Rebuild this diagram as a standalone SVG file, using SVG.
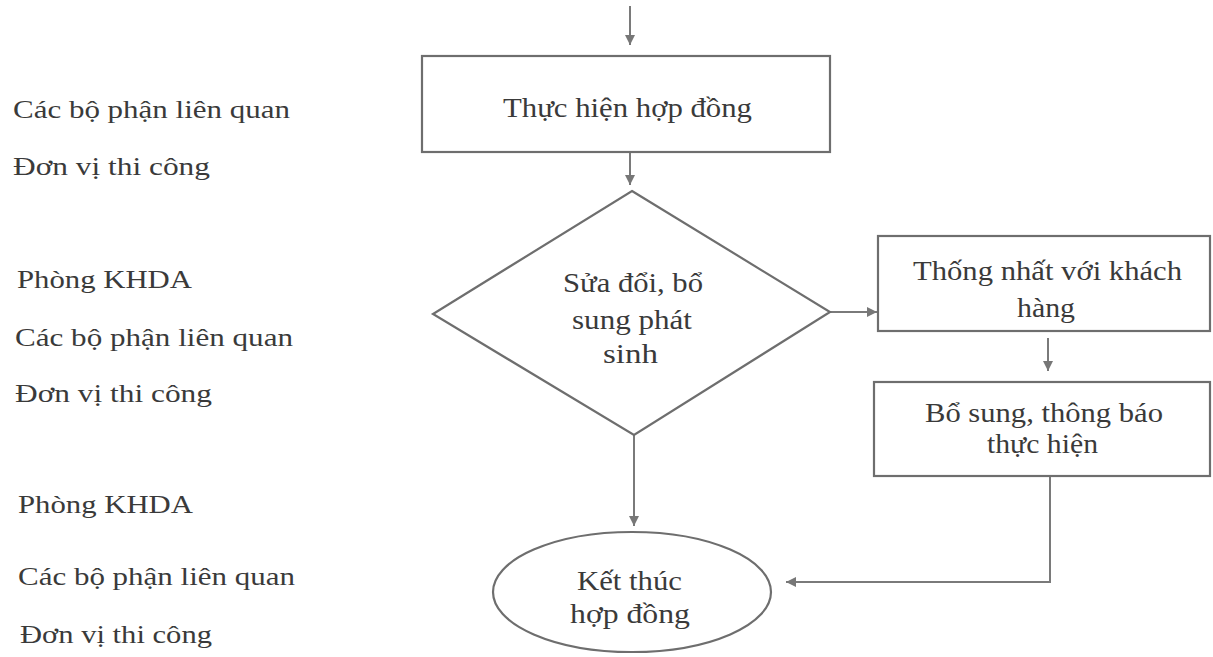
<svg xmlns="http://www.w3.org/2000/svg" width="1213" height="657" viewBox="0 0 1213 657">
<defs>
<marker id="arr" markerUnits="userSpaceOnUse" markerWidth="12" markerHeight="12" refX="10" refY="5" orient="auto">
<path d="M0,0 L10,5 L0,10 z" fill="#777"/>
</marker>
<style>
.shape{fill:#fff;stroke:#6e6e6e;stroke-width:2.2}
.conn{fill:none;stroke:#7a7a7a;stroke-width:2}
text{font-family:"Liberation Serif","Times New Roman",serif;fill:#3a3a3a}
.lbl{font-size:26px}
.nt{font-size:28px;text-anchor:start}
</style>
</defs>
<rect width="1213" height="657" fill="#fff"/>
<g id="labels">
<text class="lbl" x="13" y="118" textLength="277" lengthAdjust="spacingAndGlyphs">Các bộ phận liên quan</text>
<text class="lbl" x="13" y="175" textLength="197" lengthAdjust="spacingAndGlyphs">Đơn vị thi công</text>
<text class="lbl" x="17" y="288" textLength="175" lengthAdjust="spacingAndGlyphs">Phòng KHDA</text>
<text class="lbl" x="15" y="346" textLength="278" lengthAdjust="spacingAndGlyphs">Các bộ phận liên quan</text>
<text class="lbl" x="15" y="402" textLength="197" lengthAdjust="spacingAndGlyphs">Đơn vị thi công</text>
<text class="lbl" x="18" y="513" textLength="175" lengthAdjust="spacingAndGlyphs">Phòng KHDA</text>
<text class="lbl" x="18" y="585" textLength="277" lengthAdjust="spacingAndGlyphs">Các bộ phận liên quan</text>
<text class="lbl" x="20" y="643" textLength="192" lengthAdjust="spacingAndGlyphs">Đơn vị thi công</text>
</g>
<g id="connectors">
<line class="conn" x1="630" y1="6" x2="630" y2="45" marker-end="url(#arr)"/>
<line class="conn" x1="630" y1="152" x2="630" y2="185" marker-end="url(#arr)"/>
<line class="conn" x1="830" y1="312" x2="877" y2="312" marker-end="url(#arr)"/>
<line class="conn" x1="1048" y1="338" x2="1048" y2="371" marker-end="url(#arr)"/>
<line class="conn" x1="634" y1="435" x2="634" y2="526" marker-end="url(#arr)"/>
<polyline class="conn" points="1050,476 1050,582 786,582" marker-end="url(#arr)"/>
</g>
<g id="n1">
<rect class="shape" x="422" y="56" width="408" height="96"/>
<text class="nt" x="503" y="117" textLength="249" lengthAdjust="spacingAndGlyphs">Thực hiện hợp đồng</text>
</g>
<g id="n2">
<polygon class="shape" points="632,191 830,312 634,435 433,314"/>
<text class="nt" x="563" y="292" textLength="140" lengthAdjust="spacingAndGlyphs">Sửa đổi, bổ</text>
<text class="nt" x="572" y="329" textLength="120" lengthAdjust="spacingAndGlyphs">sung phát</text>
<text class="nt" x="603" y="363" textLength="55" lengthAdjust="spacingAndGlyphs">sinh</text>
</g>
<g id="n3">
<rect class="shape" x="878" y="236" width="332" height="95"/>
<text class="nt" x="913" y="280" textLength="269" lengthAdjust="spacingAndGlyphs">Thống nhất với khách</text>
<text class="nt" x="1017" y="317" textLength="58" lengthAdjust="spacingAndGlyphs">hàng</text>
</g>
<g id="n4">
<rect class="shape" x="874" y="382" width="336" height="94"/>
<text class="nt" x="925" y="422" textLength="238" lengthAdjust="spacingAndGlyphs">Bổ sung, thông báo</text>
<text class="nt" x="987" y="453" textLength="111" lengthAdjust="spacingAndGlyphs">thực hiện</text>
</g>
<g id="n5">
<ellipse class="shape" cx="632" cy="592" rx="139" ry="60"/>
<text class="nt" x="577" y="590" textLength="105" lengthAdjust="spacingAndGlyphs">Kết thúc</text>
<text class="nt" x="570" y="623" textLength="120" lengthAdjust="spacingAndGlyphs">hợp đồng</text>
</g>
</svg>
